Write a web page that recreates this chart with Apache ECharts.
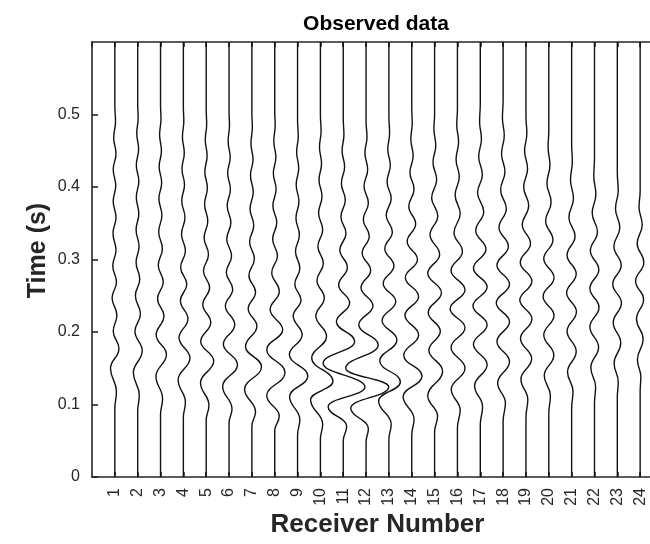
<!DOCTYPE html>
<html>
<head>
<meta charset="utf-8">
<title>Observed data</title>
<script src="https://cdn.jsdelivr.net/npm/echarts@6/dist/echarts.min.js"></script>
<style>
  html, body { margin: 0; padding: 0; background: #fff; overflow: hidden; }
  /* the axes box runs a little past the right edge of the window */
  #chart { width: 666px; height: 544px; }
</style>
</head>
<body>
<div id="chart"></div>
<script>
// Each trace: [time (s), amplitude in receiver-spacing units] at its turning points.
const trace01 = [[0,0],[0.094,0],[0.118,0.07],[0.150,-0.19],[0.177,0.18],[0.201,-0.07],[0.223,0.09],[0.247,-0.12],[0.269,0.07],[0.291,-0.09],[0.313,0.05],[0.336,-0.08],[0.358,0.05],[0.380,-0.07],[0.402,0.04],[0.424,-0.07],[0.446,0.05],[0.468,-0.05],[0.490,0.03],[0.512,0],[0.6,0]];
const trace02 = [[0,0],[0.090,0],[0.113,0.07],[0.144,-0.19],[0.174,0.20],[0.201,-0.12],[0.225,0.12],[0.250,-0.10],[0.273,0.09],[0.296,-0.07],[0.318,0.06],[0.341,-0.07],[0.363,0.05],[0.386,-0.06],[0.408,0.05],[0.430,-0.06],[0.452,0.04],[0.474,-0.04],[0.495,0.02],[0.515,0],[0.6,0]];
const trace03 = [[0,0],[0.086,0],[0.108,0.09],[0.139,-0.20],[0.169,0.26],[0.196,-0.19],[0.222,0.15],[0.246,-0.13],[0.269,0.12],[0.292,-0.10],[0.315,0.08],[0.338,-0.08],[0.361,0.06],[0.384,-0.07],[0.406,0.05],[0.428,-0.06],[0.450,0.04],[0.472,-0.04],[0.494,0.02],[0.514,0],[0.6,0]];
const trace04 = [[0,0],[0.082,0],[0.103,0.09],[0.134,-0.23],[0.164,0.29],[0.192,-0.19],[0.218,0.20],[0.243,-0.13],[0.266,0.15],[0.289,-0.12],[0.312,0.09],[0.335,-0.08],[0.358,0.07],[0.381,-0.07],[0.403,0.05],[0.425,-0.06],[0.447,0.04],[0.469,-0.04],[0.491,0.02],[0.510,0],[0.6,0]];
const trace05 = [[0,0],[0.078,0],[0.099,0.12],[0.130,-0.25],[0.160,0.33],[0.187,-0.24],[0.213,0.20],[0.238,-0.15],[0.261,0.15],[0.284,-0.12],[0.307,0.10],[0.330,-0.09],[0.353,0.07],[0.376,-0.07],[0.399,0.05],[0.421,-0.06],[0.443,0.04],[0.465,-0.04],[0.487,0.02],[0.508,0],[0.6,0]];
const trace06 = [[0,0],[0.074,0],[0.094,0.13],[0.125,-0.28],[0.155,0.37],[0.183,-0.25],[0.210,0.25],[0.236,-0.16],[0.259,0.16],[0.282,-0.12],[0.305,0.11],[0.328,-0.10],[0.351,0.08],[0.374,-0.08],[0.397,0.06],[0.419,-0.06],[0.441,0.05],[0.463,-0.04],[0.485,0.02],[0.505,0],[0.6,0]];
const trace07 = [[0,0],[0.070,0],[0.090,0.16],[0.121,-0.32],[0.152,0.42],[0.180,-0.28],[0.208,0.22],[0.232,-0.16],[0.255,0.16],[0.278,-0.13],[0.301,0.11],[0.324,-0.10],[0.347,0.08],[0.370,-0.08],[0.393,0.06],[0.416,-0.06],[0.438,0.05],[0.460,-0.04],[0.482,0.02],[0.503,0],[0.6,0]];
const trace08 = [[0,0],[0.064,0],[0.084,0.20],[0.112,-0.35],[0.144,0.45],[0.176,-0.35],[0.203,0.35],[0.231,-0.20],[0.256,0.20],[0.282,-0.13],[0.305,0.12],[0.328,-0.09],[0.351,0.09],[0.374,-0.08],[0.397,0.06],[0.419,-0.06],[0.441,0.05],[0.463,-0.04],[0.485,0.02],[0.505,0],[0.6,0]];
const trace09 = [[0,0],[0.058,0],[0.079,0.10],[0.111,-0.35],[0.139,0.45],[0.169,-0.36],[0.196,0.20],[0.222,-0.19],[0.244,0.15],[0.266,-0.12],[0.288,0.10],[0.311,-0.09],[0.334,0.08],[0.357,-0.07],[0.380,0.06],[0.403,-0.06],[0.426,0.05],[0.448,-0.04],[0.470,0.03],[0.492,0],[0.6,0]];
const trace10 = [[0,0],[0.052,0],[0.073,0.10],[0.1065,-0.43],[0.132,0.55],[0.164,-0.38],[0.194,0.27],[0.222,-0.20],[0.247,0.17],[0.271,-0.15],[0.295,0.13],[0.318,-0.11],[0.341,0.10],[0.364,-0.08],[0.387,0.07],[0.410,-0.06],[0.432,0.05],[0.455,-0.04],[0.477,0.03],[0.500,0],[0.6,0]];
const trace11 = [[0,0],[0.050,0],[0.070,0.15],[0.097,-0.66],[0.124,0.95],[0.157,-0.88],[0.187,0.50],[0.214,-0.30],[0.240,0.28],[0.265,-0.20],[0.289,0.18],[0.313,-0.15],[0.336,0.12],[0.359,-0.10],[0.382,0.09],[0.405,-0.08],[0.428,0.06],[0.450,-0.05],[0.472,0.03],[0.495,0],[0.6,0]];
const trace12 = [[0,0],[0.048,0],[0.067,0.10],[0.095,-0.67],[0.124,0.99],[0.150,-0.89],[0.182,0.53],[0.210,-0.32],[0.236,0.30],[0.261,-0.22],[0.285,0.20],[0.309,-0.17],[0.332,0.14],[0.355,-0.12],[0.378,0.10],[0.401,-0.09],[0.424,0.07],[0.447,-0.05],[0.469,0.04],[0.490,0],[0.6,0]];
const trace13 = [[0,0],[0.052,0],[0.073,0.10],[0.105,-0.45],[0.131,0.50],[0.160,-0.40],[0.189,0.35],[0.216,-0.30],[0.242,0.30],[0.267,-0.25],[0.291,0.22],[0.315,-0.18],[0.338,0.15],[0.361,-0.12],[0.384,0.10],[0.407,-0.08],[0.430,0.06],[0.452,-0.05],[0.474,0.03],[0.496,0],[0.6,0]];
const trace14 = [[0,0],[0.058,0],[0.080,0.10],[0.111,-0.38],[0.139,0.45],[0.168,-0.35],[0.196,0.30],[0.223,-0.30],[0.249,0.30],[0.275,-0.28],[0.300,0.25],[0.325,-0.20],[0.349,0.17],[0.373,-0.13],[0.397,0.10],[0.420,-0.08],[0.443,0.06],[0.466,-0.04],[0.488,0.02],[0.510,0],[0.6,0]];
const trace15 = [[0,0],[0.062,0],[0.084,0.13],[0.112,-0.30],[0.146,0.35],[0.175,-0.25],[0.201,0.25],[0.227,-0.28],[0.254,0.30],[0.281,-0.30],[0.307,0.22],[0.334,-0.20],[0.360,0.14],[0.385,-0.13],[0.410,0.09],[0.434,-0.07],[0.457,0.05],[0.480,-0.03],[0.500,0],[0.6,0]];
const trace16 = [[0,0],[0.068,0],[0.092,0.12],[0.121,-0.27],[0.150,0.33],[0.179,-0.28],[0.206,0.33],[0.232,-0.32],[0.258,0.33],[0.285,-0.28],[0.311,0.22],[0.337,-0.15],[0.363,0.12],[0.389,-0.10],[0.414,0.08],[0.438,-0.06],[0.462,0.05],[0.486,-0.03],[0.508,0],[0.6,0]];
const trace17 = [[0,0],[0.072,0],[0.097,0.10],[0.126,-0.25],[0.155,0.30],[0.183,-0.30],[0.210,0.30],[0.236,-0.32],[0.262,0.30],[0.288,-0.30],[0.314,0.25],[0.340,-0.20],[0.366,0.15],[0.392,-0.12],[0.417,0.09],[0.442,-0.07],[0.466,0.05],[0.490,-0.03],[0.515,0],[0.6,0]];
const trace18 = [[0,0],[0.077,0],[0.102,0.10],[0.130,-0.24],[0.159,0.28],[0.187,-0.27],[0.214,0.28],[0.240,-0.30],[0.266,0.28],[0.292,-0.27],[0.318,0.23],[0.344,-0.18],[0.370,0.14],[0.396,-0.11],[0.421,0.08],[0.446,-0.07],[0.471,0.05],[0.495,-0.03],[0.520,0],[0.6,0]];
const trace19 = [[0,0],[0.082,0],[0.107,0.08],[0.135,-0.22],[0.163,0.25],[0.191,-0.24],[0.218,0.26],[0.244,-0.27],[0.270,0.26],[0.296,-0.25],[0.322,0.20],[0.348,-0.16],[0.374,0.12],[0.400,-0.10],[0.425,0.07],[0.450,-0.06],[0.474,0.04],[0.497,0],[0.6,0]];
const trace20 = [[0,0],[0.088,0],[0.112,0.07],[0.140,-0.20],[0.168,0.22],[0.196,-0.22],[0.223,0.23],[0.249,-0.25],[0.275,0.23],[0.301,-0.22],[0.327,0.18],[0.353,-0.14],[0.379,0.10],[0.405,-0.08],[0.430,0.05],[0.455,-0.03],[0.478,0],[0.6,0]];
const trace21 = [[0,0],[0.095,0],[0.118,0.06],[0.145,-0.18],[0.173,0.20],[0.201,-0.20],[0.228,0.21],[0.254,-0.22],[0.280,0.20],[0.306,-0.20],[0.332,0.15],[0.358,-0.12],[0.384,0.08],[0.410,-0.05],[0.435,0.03],[0.460,0],[0.6,0]];
const trace22 = [[0,0],[0.102,0],[0.124,0.05],[0.151,-0.16],[0.179,0.18],[0.207,-0.20],[0.234,0.20],[0.260,-0.20],[0.286,0.19],[0.312,-0.18],[0.338,0.13],[0.364,-0.10],[0.390,0.06],[0.415,-0.03],[0.440,0],[0.6,0]];
const trace23 = [[0,0],[0.110,0],[0.131,0.04],[0.157,-0.14],[0.185,0.15],[0.213,-0.18],[0.240,0.18],[0.266,-0.20],[0.292,0.17],[0.318,-0.15],[0.344,0.11],[0.370,-0.08],[0.395,0.04],[0.420,0],[0.6,0]];
const trace24 = [[0,0],[0.118,0],[0.138,0.03],[0.162,-0.12],[0.190,0.13],[0.218,-0.16],[0.245,0.15],[0.270,-0.20],[0.296,0.16],[0.322,-0.13],[0.348,0.09],[0.372,-0.05],[0.395,0],[0.6,0]];

const traces = [trace01, trace02, trace03, trace04, trace05, trace06, trace07, trace08,
                trace09, trace10, trace11, trace12, trace13, trace14, trace15, trace16,
                trace17, trace18, trace19, trace20, trace21, trace22, trace23, trace24];

const receivers = traces.map((_, i) => i + 1);
const timeTicks = [0, 0.1, 0.2, 0.3, 0.4, 0.5];

const FONT = '"Liberation Sans", Arial, Helvetica, sans-serif';
const AXIS_COLOR = '#262626';

const chart = echarts.init(document.getElementById('chart'), null, { renderer: 'canvas' });

// One wiggle per receiver, offset horizontally to its receiver number.
const series = traces.map((tr, i) => ({
  type: 'line',
  name: 'Receiver ' + receivers[i],
  data: tr.map(([t, a]) => [receivers[i] + a, t]),
  showSymbol: false,
  smooth: 0.45,
  smoothMonotone: 'y',
  lineStyle: { color: '#111', width: 1.4 },
  emphasis: { disabled: true },
  silent: true,
  xAxisIndex: 0,
  yAxisIndex: 0
}));

chart.setOption({
  animation: false,
  backgroundColor: '#fff',
  title: {
    text: 'Observed data',
    left: 371,
    top: 9,
    textAlign: 'center',
    textStyle: { fontFamily: FONT, fontSize: 21, fontWeight: 'bold', color: '#000' }
  },
  grid: { left: 92, top: 42, bottom: 67, right: 3, containLabel: false },
  xAxis: [
    {
      type: 'value', position: 'bottom', min: 0, max: 25, interval: 1,
      name: 'Receiver Number', nameLocation: 'middle', nameGap: 35, nameMoveOverlap: false,
      nameTextStyle: { fontFamily: FONT, fontSize: 26, fontWeight: 'bold', color: AXIS_COLOR },
      axisLine: { show: true, onZero: false, lineStyle: { color: AXIS_COLOR, width: 1.6 } },
      axisTick: { show: true, inside: true, length: 5, lineStyle: { color: AXIS_COLOR, width: 1.6 } },
      axisLabel: {
        rotate: 90, margin: 11, fontFamily: FONT, fontSize: 16, color: AXIS_COLOR,
        showMinLabel: false, showMaxLabel: false,
        formatter: v => (receivers.includes(v) ? String(v) : '')
      },
      splitLine: { show: false }
    },
    {
      type: 'value', position: 'top', min: 0, max: 25, interval: 1,
      axisLine: { show: true, onZero: false, lineStyle: { color: AXIS_COLOR, width: 1.6 } },
      axisTick: { show: true, inside: true, length: 5, lineStyle: { color: AXIS_COLOR, width: 1.6 } },
      axisLabel: { show: false },
      splitLine: { show: false }
    }
  ],
  yAxis: [
    {
      type: 'value', position: 'left', min: 0, max: 0.6, interval: 0.1,
      name: 'Time (s)', nameLocation: 'middle', nameGap: 41, nameRotate: 90, nameMoveOverlap: false,
      nameTextStyle: { fontFamily: FONT, fontSize: 25, fontWeight: 'bold', color: AXIS_COLOR, padding: [0, 0, 0, 18] },
      axisLine: { show: true, onZero: false, lineStyle: { color: AXIS_COLOR, width: 1.6 } },
      axisTick: { show: true, inside: true, length: 6, lineStyle: { color: AXIS_COLOR, width: 1.6 } },
      axisLabel: {
        margin: 12, fontFamily: FONT, fontSize: 16, color: AXIS_COLOR,
        showMaxLabel: false,
        formatter: v => {
          const hit = timeTicks.find(t => Math.abs(t - v) < 1e-9);
          return hit === undefined ? '' : (hit === 0 ? '0' : hit.toFixed(1));
        }
      },
      splitLine: { show: false }
    },
    {
      type: 'value', position: 'right', min: 0, max: 0.6, interval: 0.1,
      axisLine: { show: true, onZero: false, lineStyle: { color: AXIS_COLOR, width: 1.6 } },
      axisTick: { show: true, inside: true, length: 6, lineStyle: { color: AXIS_COLOR, width: 1.6 } },
      axisLabel: { show: false },
      splitLine: { show: false }
    }
  ],
  series
});
</script>
</body>
</html>
